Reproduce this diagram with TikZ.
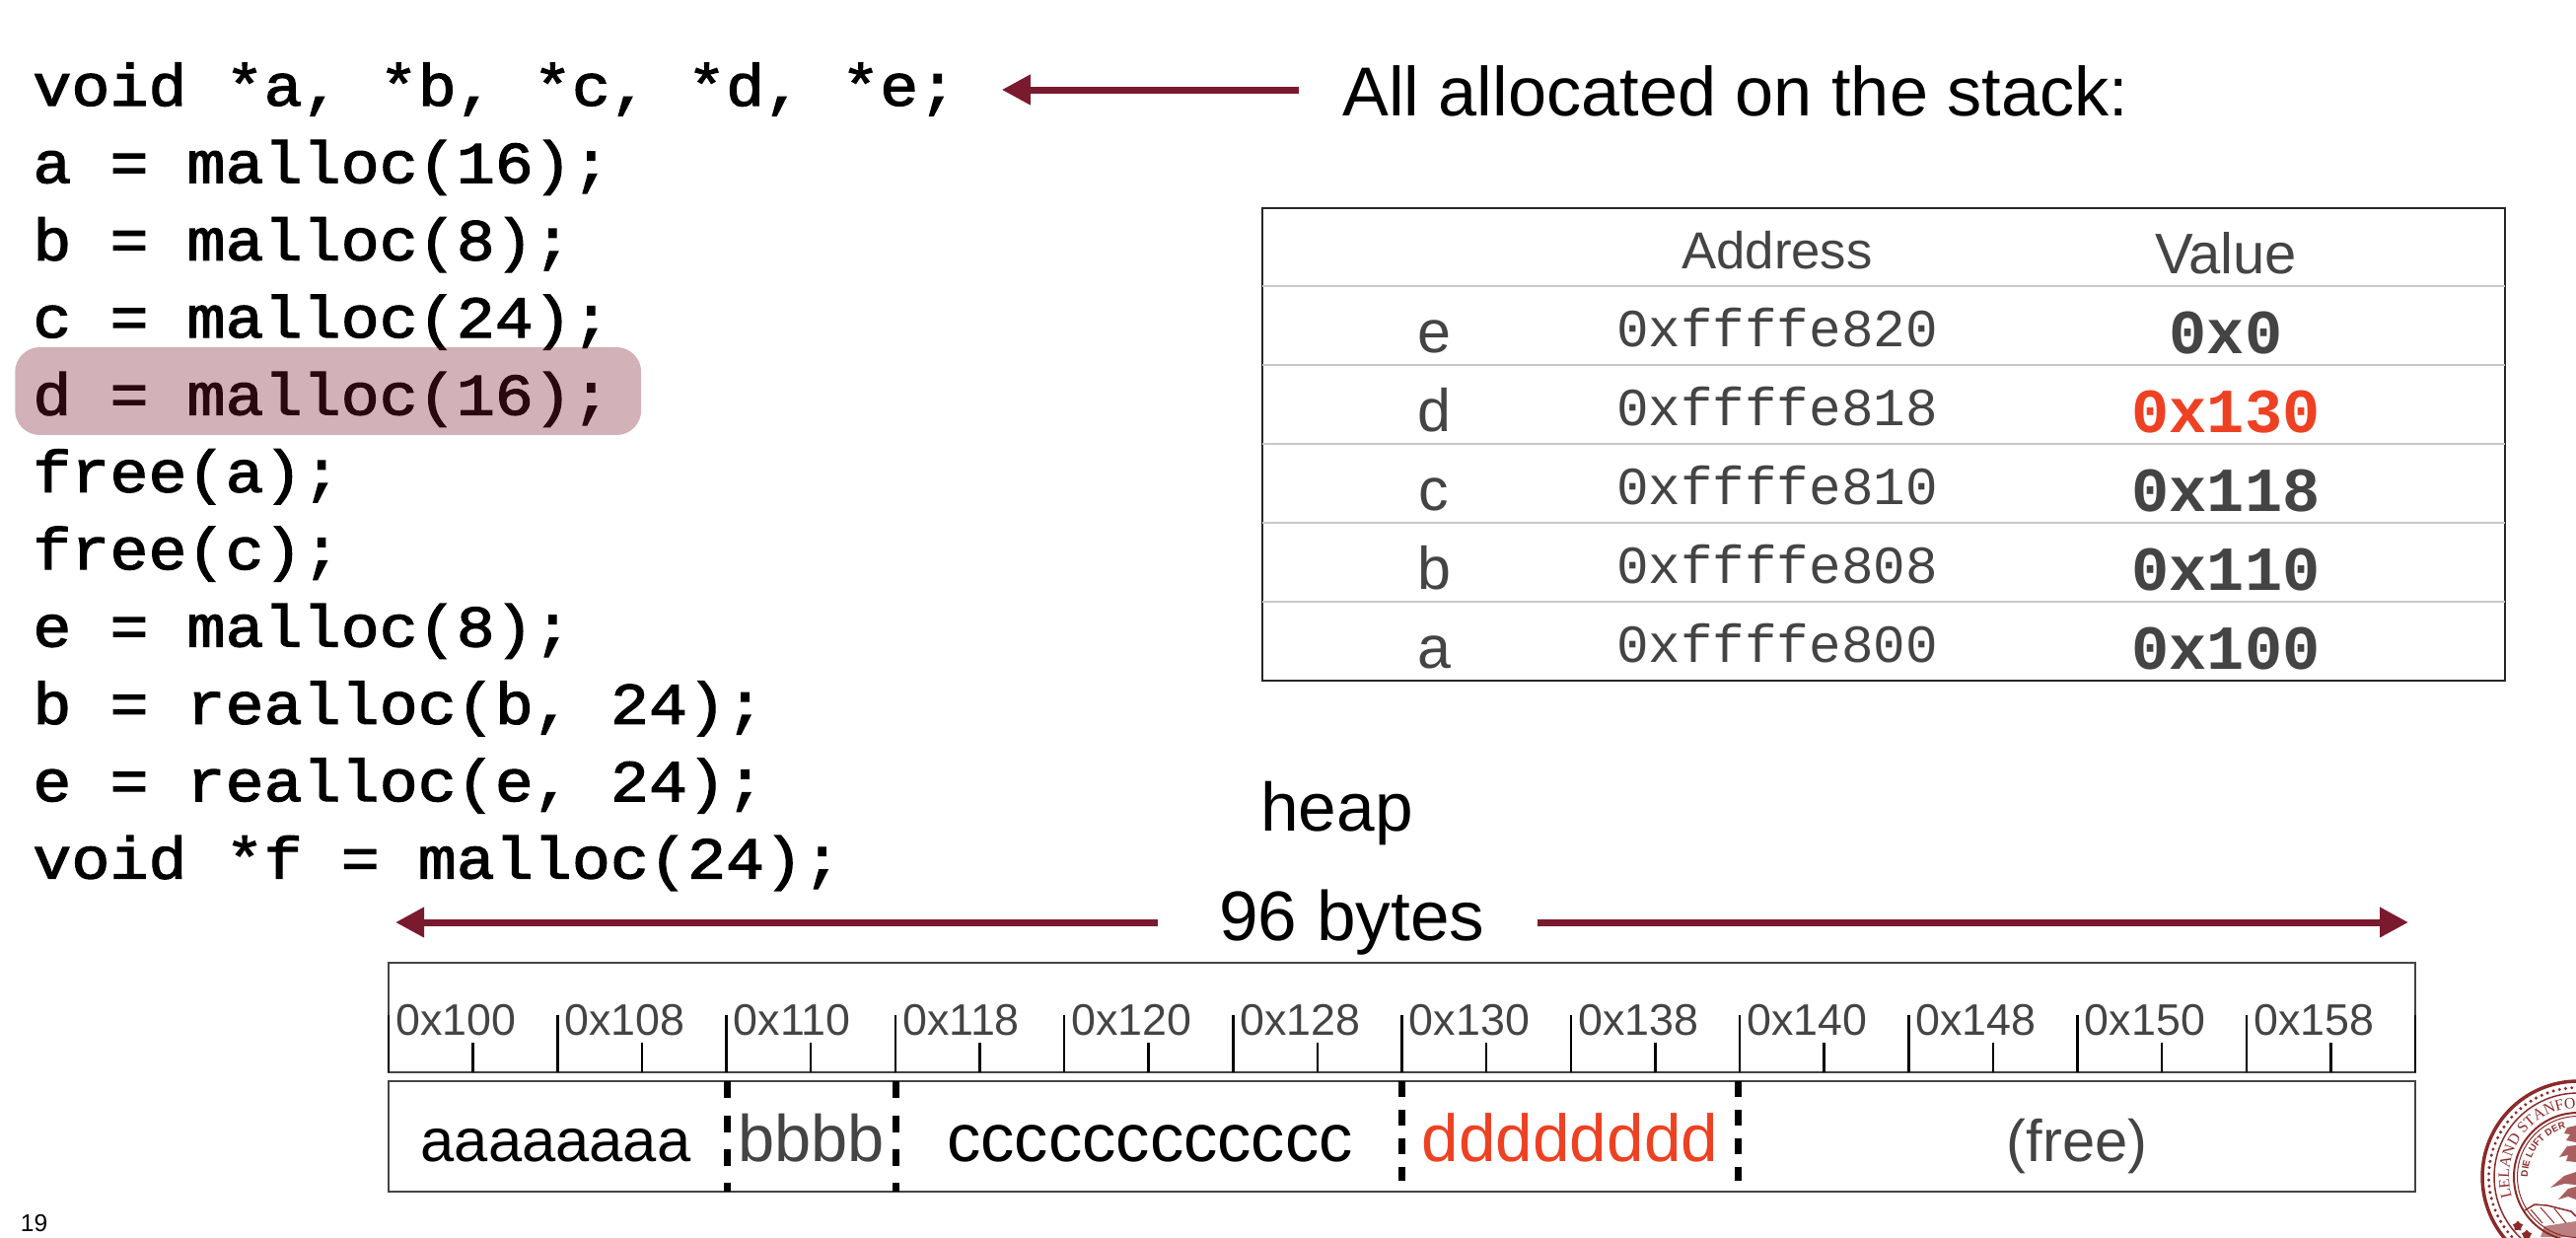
\documentclass[tikz,border=0pt]{standalone}
\usepackage{fontspec}
\setmainfont{Liberation Sans}
\setmonofont{Liberation Mono}
\newfontfamily\sealserif{Liberation Serif}
\newfontfamily\codefont[FakeStretch=1.086,FakeBold=2]{Liberation Mono}
\usetikzlibrary{arrows.meta,shapes.geometric,decorations.text}
\definecolor{cardinal}{HTML}{7A1A2E}
\definecolor{hotred}{HTML}{EE4123}
\definecolor{slate}{HTML}{444444}
\definecolor{rowgray}{HTML}{C8C8C8}
\definecolor{sealred}{HTML}{8C2A2A}
\newcommand{\sz}[1]{\fontsize{#1}{#1}\selectfont}
\tikzset{
  codeline/.style={anchor=base west, inner sep=0pt, font=\codefont\sz{34.1}},
  hilite/.style={rectangle, rounded corners=.5cm, fill=cardinal, fill opacity=.34, minimum width=12.7cm, minimum height=1.78cm},
  bigtext/.style={anchor=base west, inner sep=0pt, font=\sz{40}},
  memarrow/.style={-{Triangle[length=.58cm,width=.58cm]}, cardinal, line width=.14cm},
  tabbox/.style={draw=black!85, line width=.035cm, minimum width=25.2cm, minimum height=9.58cm},
  rowline/.style={rowgray, line width=.05cm},
  headtext/.style={anchor=base, inner sep=0pt, text=slate},
  varname/.style={anchor=base, inner sep=0pt, text=slate, font=\sz{34.7}},
  addrtext/.style={anchor=base, inner sep=0pt, text=slate, font=\ttfamily\sz{30.9}},
  valtext/.style={anchor=base, inner sep=0pt, font=\ttfamily\bfseries\sz{36.2}},
  membox/.style={draw=slate, line width=.04cm, inner sep=0pt, minimum width=41.1cm},
  bigtick/.style={black, line width=.05cm},
  hexlabel/.style={anchor=base west, inner sep=0pt, text=slate, font=\sz{25.5}},
  memtext/.style={anchor=base, inner sep=0pt},
  divider/.style={black, line width=.14cm, dash pattern=on .34cm off .35cm},
  divider2/.style={black, line width=.14cm, dash pattern=on .31cm off .27cm},
  sealstar/.style={star, star points=5, fill=sealred, inner sep=0pt, minimum size=.22cm},
}
\begin{document}
\begin{tikzpicture}[x=.02cm, y=-.02cm]
    \useasboundingbox (0,0) rectangle (2612,1254);

    % Code on the left
    \foreach \txt [count=\i from 0] in {void *a{,} *b{,} *c{,} *d{,} *e;, a = malloc(16);, b = malloc(8);, c = malloc(24);, d = malloc(16);, free(a);, free(c);, e = malloc(8);, b = realloc(b{,} 24);, e = realloc(e{,} 24);, void *f = malloc(24);}
        \node[codeline] (code\i) at (33, 107+78.35*\i) {\txt};
    \node[hilite] (dline) at (332.7, 396.5) {};

    % Note about the stack
    \coordinate (stackrow) at (0, 91);
    \node[bigtext] (stacklabel) at (1361, 117) {All allocated on the stack:};
    \draw[memarrow, shorten <=.88cm, shorten >=.9cm] (stacklabel.west |- stackrow) -- (code0.east |- stackrow);

    % Stack table
    \node[tabbox] (stacktab) at (1910, 450.5) {};
    \foreach \y in {290, 370, 450, 530, 610}
        \draw[rowline] (1280, \y) -- (2540, \y);
    \node[headtext, font=\sz{30}] (addrhead) at (1802, 272) {Address};
    \node[headtext, font=\sz{33}] (valhead) at (2257, 277) {Value};
    \foreach \nm/\addr/\val/\clr [count=\i from 0] in {e/820/0x0/slate, d/818/0x130/hotred, c/810/0x118/slate, b/808/0x110/slate, a/800/0x100/slate} {
        \node[varname] (var\nm) at (1454, 357+80*\i) {\nm};
        \node[addrtext] (addr\nm) at (1802, 351+80*\i) {0xffffe\addr};
        \node[valtext, text=\clr] (val\nm) at (2257, 358+80*\i) {\val};
    }

    % Heap titles and the 96 byte span
    \node[bigtext, font=\sz{39.5}] (heaplabel) at (1278, 842) {heap};
    \node[bigtext, font=\sz{40.5}] (bytes) at (1236, 953) {96 bytes};
    \coordinate (bytesrow) at (0, 935);
    \coordinate (leftend) at (401, 935);
    \coordinate (rightend) at (2442, 935);
    \draw[memarrow, shorten <=1.24cm] (bytes.west |- bytesrow) -- (leftend);
    \draw[memarrow, shorten <=1.06cm] (bytes.east |- bytesrow) -- (rightend);

    % Address ruler
    \node[membox, minimum height=2.22cm] (ruler) at (1421.5, 1031.5) {};
    \foreach \i in {0,...,12}
        \draw[bigtick] ({394+171.25*\i}, 1087) -- ++(0, -58);
    \foreach \i in {0,...,11}
        \draw[bigtick] ({479.6+171.25*\i}, 1087) -- ++(0, -30);
    \foreach \lab [count=\i from 0] in {100, 108, 110, 118, 120, 128, 130, 138, 140, 148, 150, 158}
        \node[hexlabel] (hex\lab) at ({401+171.25*\i}, 1049) {0x\lab};

    % Heap contents
    \node[membox, minimum height=2.24cm] (heapbox) at (1421.5, 1152) {};
    \node[memtext, font=\sz{35}] (blocka) at (563.5, 1177) {aaaaaaaa};
    \node[memtext, font=\sz{38}, text=slate] (blockb) at (822.5, 1177) {bbbb};
    \node[memtext, font=\sz{39}] (blockc) at (1166, 1177) {cccccccccccc};
    \node[memtext, font=\sz{38.4}, text=hotred] (blockd) at (1592, 1177) {dddddddd};
    \node[memtext, font=\sz{34}, text=slate] (blockfree) at (2106, 1177) {(free)};
    \draw[divider] (737, 1096) -- (737, 1208);
    \draw[divider] (908.5, 1096) -- (908.5, 1208);
    \draw[divider2] (1421.5, 1096) -- (1421.5, 1197);
    \draw[divider2] (1762, 1096) -- (1762, 1197);

    % Slide number
    \node[anchor=base west, inner sep=0pt, font=\sz{14}] (slidenum) at (20.5, 1248) {19};

    % Seal in the corner
    \begin{scope}[shift={(2614,1193)}, x=.02cm, y=.02cm, sealred]
        \draw[line width=.07cm] (0,0) circle (97);
        \draw[line width=.03cm] (0,0) circle (85);
        \draw[line width=.04cm] (0,0) circle (65);
        \draw[line width=.02cm] (0,0) circle (61.5);
        \foreach \a in {90,94,...,270}
            \fill (\a:90.5) circle (1.7);
        \path[decorate, decoration={text along path, text={|\sealserif\sz{9}\color{sealred}|LELAND STANFORD}, text align={fit to path}}]
            (197:70) arc[start angle=197, end angle=92, radius=70];
        \path[decorate, decoration={text along path, text={|\bfseries\sz{5.5}\color{sealred}|DIE LUFT DER}, text align={fit to path}}]
            (180:51) arc[start angle=180, end angle=104, radius=51];
    \end{scope}
    \node[sealstar] (star1) at (2553, 1243) {};
    \node[sealstar] (star2) at (2562, 1252) {};
    % Tree and hills of the seal
    \fill[sealred, fill opacity=.75] (2612,1141) -- (2603,1143) -- (2600,1149) -- (2606,1150) -- (2602,1156) -- (2612,1158) -- cycle;
    \fill[sealred, fill opacity=.75] (2612,1161) -- (2603,1162) -- (2595,1173) -- (2604,1171) -- (2602,1177) -- (2612,1178) -- cycle;
    \fill[sealred, fill opacity=.75] (2612,1188) -- (2600,1192) -- (2586,1204) -- (2600,1200) -- (2612,1201) -- cycle;
    \fill[sealred, fill opacity=.75] (2612,1203) -- (2604,1205) -- (2594,1216) -- (2604,1213) -- (2612,1216) -- cycle;
    \draw[sealred, line width=.03cm] (2560,1227) -- (2570,1221) -- (2583,1222) -- (2607,1228) -- (2612,1233);
    \draw[sealred, line width=.02cm] (2566,1226) -- (2578,1240) (2576,1224) -- (2590,1240) (2590,1225) -- (2602,1240);
    \fill[sealred, fill opacity=.6] (2580,1243) -- (2612,1238) -- (2612,1254) -- (2576,1254) -- cycle;
\end{tikzpicture}
\end{document}
